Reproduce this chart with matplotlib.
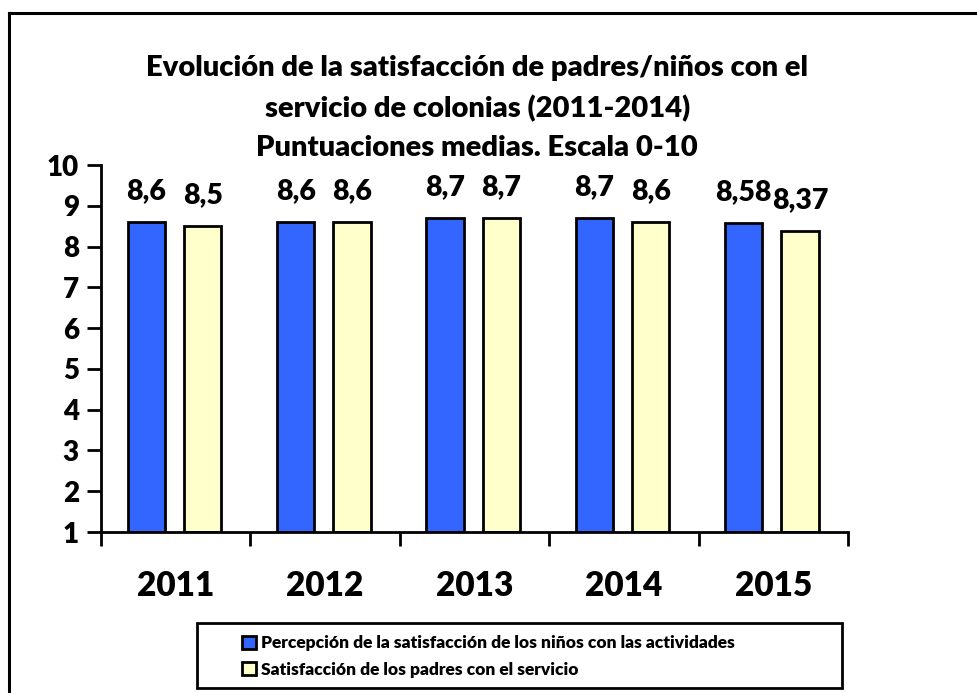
import matplotlib
matplotlib.use('Agg')
import matplotlib.pyplot as plt
import numpy as np
from matplotlib.lines import Line2D
from matplotlib.patches import Rectangle

years = ['2011', '2012', '2013', '2014', '2015']
ninos = [8.6, 8.6, 8.7, 8.7, 8.58]
padres = [8.5, 8.6, 8.7, 8.6, 8.37]
ninos_lbl = ['8,6', '8,6', '8,7', '8,7', '8,58']
padres_lbl = ['8,5', '8,6', '8,7', '8,6', '8,37']
series_names = ['Percepción de la satisfacción de los niños con las actividades',
                'Satisfacción de los padres con el servicio']
title = ('Evolución de la satisfacción de padres/niños con el\n'
         'servicio de colonias (2011-2014)\n'
         'Puntuaciones medias. Escala 0-10')

plt.rcParams['font.family'] = ['Lato', 'DejaVu Sans']
plt.rcParams['font.weight'] = 'heavy'
WT = 'heavy'

fig = plt.figure(figsize=(9.78, 6.93), dpi=100)
ax = fig.add_axes([0.1033, 0.2323, 0.867 - 0.1033, 0.7619 - 0.2323])

x = np.arange(len(years))
w = 0.25
b1 = ax.bar(x - 0.197, np.array(ninos) - 1, w, bottom=1, color='#3366FF',
            edgecolor='black', linewidth=2, label=series_names[0])
b2 = ax.bar(x + 0.18, np.array(padres) - 1, w, bottom=1, color='#FFFFCC',
            edgecolor='black', linewidth=2, label=series_names[1])

for xi, v, s in zip(x - 0.197, ninos, ninos_lbl):
    ax.annotate(s, (xi, v), xytext=(0, 13), textcoords='offset points',
                ha='center', va='bottom', fontsize=20.5, fontweight=WT)
for xi, v, s in zip(x + 0.18, padres, padres_lbl):
    ax.annotate(s, (xi, v), xytext=(0, 13), textcoords='offset points',
                ha='center', va='bottom', fontsize=20.5, fontweight=WT)

ax.set_xlim(-0.5, 4.5)
ax.set_ylim(1, 10)
ax.set_yticks(range(1, 11))
ax.set_yticklabels([str(i) for i in range(1, 11)], fontsize=20, fontweight=WT)
ax.set_xticks(np.arange(-0.5, 5, 1))
ax.set_xticklabels([])
ax.set_xticks(x, minor=True)
ax.set_xticklabels(years, minor=True)
for t in ax.get_xticklabels(minor=True):
    t.set_fontsize(24)
    t.set_fontweight(WT)
ax.tick_params(axis='x', which='minor', length=0, pad=27)
ax.tick_params(axis='x', which='major', length=10, width=2, direction='out')
ax.tick_params(axis='y', length=10, width=2, direction='out', pad=6)
for sp in ['top', 'right']:
    ax.spines[sp].set_visible(False)
for sp in ['left', 'bottom']:
    ax.spines[sp].set_linewidth(2)

fig.text(0.488, 1 - 108 / 693, title, ha='center', va='center', fontsize=21,
         fontweight=WT, linespacing=1.6)

# legend box
fig.add_artist(Rectangle((197 / 978, 1 - 688 / 693), (842 - 197) / 978, (688 - 623) / 693,
                         transform=fig.transFigure, fill=False, edgecolor='black', linewidth=2))
fig.legend(handles=[b1, b2], loc='upper left', bbox_to_anchor=(226 / 978, 1 - 619 / 693),
           frameon=False, handlelength=0.75, handleheight=0.75,
           handletextpad=0.3, labelspacing=0.6, borderpad=0.45,
           prop={'weight': WT, 'size': 12.5})

# outer border
fig.add_artist(Line2D([9 / 978, 9 / 978], [0, 1 - 13 / 693], transform=fig.transFigure,
                      color='black', linewidth=2.2))
fig.add_artist(Line2D([9 / 978, 1], [1 - 13 / 693, 1 - 13 / 693], transform=fig.transFigure,
                      color='black', linewidth=2.2))

fig.savefig('out.png', dpi=100)
